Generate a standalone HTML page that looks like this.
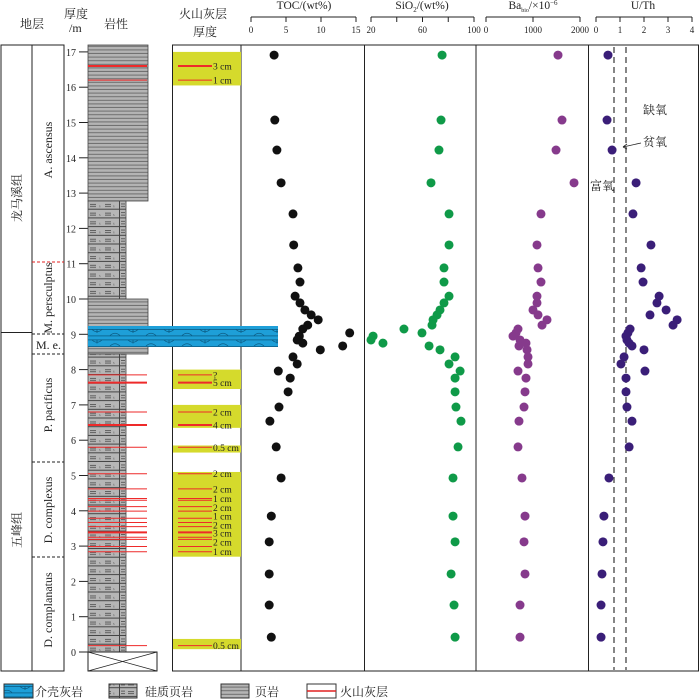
<!DOCTYPE html>
<html><head><meta charset="utf-8"><style>
body{margin:0;background:#fff;width:700px;height:699px;overflow:hidden}
svg{display:block}
.s{font-family:"Liberation Serif","Noto Serif CJK SC",serif;fill:#222}
.c{font-family:"Liberation Serif","Noto Serif CJK SC","Noto Sans CJK SC",serif;fill:#222}
</style></head><body>
<svg id="chart" width="700" height="699" viewBox="0 0 700 699" xmlns="http://www.w3.org/2000/svg">
<defs>
<pattern id="shale" width="10" height="3.6" patternUnits="userSpaceOnUse">
<rect width="10" height="3.6" fill="#b4b4b4"/><rect y="2.6" width="10" height="1" fill="#6e6e6e"/>
</pattern>
<pattern id="silic" x="88" y="201" width="38" height="8.7" patternUnits="userSpaceOnUse">
<rect width="38" height="8.7" fill="#b6b6b6"/><rect y="7.7" width="38" height="1" fill="#444"/>
<rect x="2" y="3" width="6" height="0.9" fill="#555"/><rect x="2" y="5" width="6" height="0.9" fill="#555"/>
<text x="11" y="6.5" font-size="4" fill="#555">s</text>
<rect x="17" y="3" width="6" height="0.9" fill="#555"/><rect x="17" y="5" width="6" height="0.9" fill="#555"/>
<text x="25" y="6.5" font-size="4" fill="#555">s</text>
<rect x="31" y="0" width="1" height="8.7" fill="#444"/>
<rect x="33" y="2.5" width="4" height="0.9" fill="#555"/><rect x="33" y="5" width="4" height="0.9" fill="#555"/>
</pattern>
<pattern id="lime" x="88" y="326" width="36" height="10.5" patternUnits="userSpaceOnUse">
<rect width="36" height="10.5" fill="#1e9fd8"/>
<rect y="3" width="36" height="0.8" fill="#0b5d85"/><rect y="9.5" width="36" height="0.8" fill="#0b5d85"/>
<path d="M4 3.5 Q9 8 14 3.5 M9 3.5 V7 M22 9.5 Q27 5 32 9.5" stroke="#0b5d85" stroke-width="0.8" fill="none"/>
</pattern>
</defs>

<g>
<text class="c" x="20" y="28" font-size="12">地层</text>
<text class="c" x="64" y="18" font-size="12">厚度</text>
<text class="c" x="69" y="32" font-size="12">/m</text>
<text class="c" x="104" y="28" font-size="12">岩性</text>
<text class="c" x="179" y="18" font-size="12">火山灰层</text>
<text class="c" x="193" y="36" font-size="12">厚度</text>
</g>

<g stroke="#222" stroke-width="1" fill="none">
<rect x="1" y="45" width="63" height="626"/>
<line x1="32" y1="45" x2="32" y2="671"/>
<line x1="1" y1="332.5" x2="32" y2="332.5"/>
<rect x="172.5" y="45" width="526" height="626"/>
<line x1="241" y1="45" x2="241" y2="671"/>
<line x1="364.5" y1="45" x2="364.5" y2="671"/>
<line x1="476" y1="45" x2="476" y2="671"/>
<line x1="588.5" y1="45" x2="588.5" y2="671"/>
</g>
<g stroke-width="1" stroke-dasharray="3,2">
<line x1="32" y1="262" x2="64" y2="262" stroke="#e02020"/>
<line x1="32" y1="334" x2="64" y2="334" stroke="#222"/>
<line x1="32" y1="354" x2="64" y2="354" stroke="#222"/>
<line x1="32" y1="462" x2="64" y2="462" stroke="#222"/>
<line x1="32" y1="557" x2="64" y2="557" stroke="#222"/>
</g>
<text class="c" font-size="12" transform="translate(21,198) rotate(-90)" text-anchor="middle">龙马溪组</text>
<text class="c" font-size="12" transform="translate(21,530) rotate(-90)" text-anchor="middle">五峰组</text>
<g class="s" font-size="12">
<text transform="translate(52,150) rotate(-90)" text-anchor="middle">A. ascensus</text>
<text transform="translate(52,298) rotate(-90)" text-anchor="middle">M. persculptus</text>
<text x="36" y="349">M. e.</text>
<text transform="translate(52,405) rotate(-90)" text-anchor="middle">P. pacificus</text>
<text transform="translate(52,510) rotate(-90)" text-anchor="middle">D. complexus</text>
<text transform="translate(52,610) rotate(-90)" text-anchor="middle">D. complanatus</text>
</g>
<g id="depthAxis"></g>

<g>
<rect x="88" y="45" width="60" height="156" fill="url(#shale)" stroke="#444" stroke-width="0.8"/>
<rect x="88" y="201" width="38" height="98" fill="url(#silic)" stroke="#444" stroke-width="0.8"/>
<rect x="88" y="299" width="60" height="55" fill="url(#shale)" stroke="#444" stroke-width="0.8"/>
<rect x="88" y="354" width="38" height="298" fill="url(#silic)" stroke="#444" stroke-width="0.8"/>
<rect x="88" y="652" width="69" height="19" fill="#fff" stroke="#222" stroke-width="1"/>
<path d="M88 652 L157 671 M157 652 L88 671" stroke="#222" stroke-width="0.8"/>
<rect x="88" y="326" width="190" height="21" fill="url(#lime)"/>
</g>
<g id="ashLines"></g>
<g id="ashBoxes"></g>

<g id="axes"></g>
<g stroke="#444" stroke-width="1.3" stroke-dasharray="6,4">
<line id="th1" x1="614" y1="47" x2="614" y2="670"/>
<line id="th2" x1="627" y1="47" x2="627" y2="670"/>
</g>
<g class="c" font-size="12">
<text x="643" y="114">缺氧</text>
<text x="643" y="146">贫氧</text>
<text x="590" y="190">富氧</text>
</g>
<path d="M641 143 L623 147 M623 147 l4 -3 M623 147 l4 2" stroke="#222" stroke-width="0.8" fill="none"/>
<g id="dots"></g>

<g>
<rect x="4" y="684" width="29" height="14" fill="url(#lime)" stroke="#333"/>
<text class="c" x="35" y="696" font-size="12">介壳灰岩</text>
<rect x="109" y="684" width="28" height="14" fill="url(#silic)" stroke="#333"/>
<text class="c" x="145" y="696" font-size="12">硅质页岩</text>
<rect x="221" y="684" width="28" height="14" fill="url(#shale)" stroke="#333"/>
<text class="c" x="255" y="696" font-size="12">页岩</text>
<rect x="307" y="684" width="29" height="14" fill="#fff" stroke="#333"/>
<line x1="307" y1="691" x2="336" y2="691" stroke="#e02020" stroke-width="1.5"/>
<text class="c" x="340" y="696" font-size="12">火山灰层</text>
</g>
</svg>
<script>
const depths=[16.91,15.07,14.22,13.29,12.41,11.53,10.88,10.48,10.08,9.89,9.69,9.55,9.41,9.26,9.15,9.04,8.95,8.84,8.75,8.67,8.56,8.36,8.16,7.96,7.76,7.37,6.94,6.54,5.81,4.93,3.85,3.12,2.21,1.33,0.42];
const toc=[3.3,3.4,3.7,4.3,6.0,6.1,6.7,7.0,6.3,7.0,7.7,8.6,9.6,8.1,7.4,14.1,6.9,6.6,7.4,13.1,9.9,6.0,6.6,3.9,5.6,5.3,4.0,2.7,3.6,4.3,2.9,2.6,2.6,2.6,2.9];
const sio2=[75.2,74.4,72.8,66.6,80.6,80.6,76.7,76.7,80.6,76.7,73.6,71.3,68.2,67.4,45.6,59.6,21.6,20.0,29.3,65.1,73.6,85.3,80.6,89.2,85.3,85.3,86.0,89.9,87.6,83.7,83.7,85.3,82.2,84.5,85.3];
const ba=[1532,1617,1490,1873,1170,1085,1107,1170,1085,1085,1000,1107,1298,1192,681,638,575,724,851,702,873,894,894,681,851,830,809,702,681,766,830,809,830,724,724];
const uth=[0.5,0.46,0.67,1.67,1.54,2.29,1.88,1.96,2.63,2.54,2.92,2.25,3.38,3.21,1.42,1.33,1.25,1.29,1.38,1.5,2.0,1.17,1.04,2.04,1.25,1.25,1.29,1.5,1.38,0.54,0.33,0.29,0.25,0.21,0.21];
const depthTicks=[0,1,2,3,4,5,6,7,8,9,10,11,12,13,14,15,16,17];
const tocTicks=[0,5,10,15];
const sio2Ticks=[20,40,60,80,100];
const sio2Labels=[20,60,100];
const baTicks=[0,1000,2000];
const uthTicks=[0,1,2,3,4];
const uthThresholds=[0.75,1.25];
const ashLithDepths=[16.6,16.2,7.85,7.63,6.8,6.43,5.8,5.05,4.62,4.35,4.3,4.12,3.99,3.79,3.67,3.55,3.39,3.25,3.19,2.99,2.84,0.18];
const ashThick=[1,0,0,1,0,1,0,0,0,0,0,0,0,0,0,0,1,0,0,0,0,0];
const ashBoxTop=[17.0,8.0,7.0,5.85,5.1,0.37];
const ashBoxBot=[16.05,7.45,6.35,5.65,2.7,0.08];
const ashLabelDepths=[16.6,16.2,7.85,7.63,6.8,6.43,5.8,5.05,4.62,4.35,4.1,3.85,3.6,3.37,3.12,2.84,0.18];
const ashLabels=["3 cm","1 cm","?","5 cm","2 cm","4 cm","0.5 cm","2 cm","2 cm","1 cm","2 cm","1 cm","2 cm","3 cm","2 cm","1 cm","0.5 cm"];
const ashBoxLines=[16.6,16.2,7.85,7.63,6.8,6.43,5.8,5.05,4.62,4.35,4.3,4.12,3.99,3.79,3.67,3.55,3.39,3.25,3.19,2.99,2.84,0.18];

const NS='http://www.w3.org/2000/svg';
const Y=d=>652-d*35.3;
const xT=v=>251+v*7;
const xS=v=>371+(v-20)*103/80;
const xB=v=>486+v*94/2000;
const xU=v=>596+v*24;
function mk(tag,attrs,parent){const e=document.createElementNS(NS,tag);for(const k in attrs)e.setAttribute(k,attrs[k]);parent.appendChild(e);return e;}

const da=document.getElementById('depthAxis');
depthTicks.forEach(d=>{
 const t=mk('line',{x1:79,x2:88,y1:Y(d),y2:Y(d),stroke:'#222','stroke-width':1},da);
 
 
 const l=mk('text',{x:76,y:Y(d)+4,'text-anchor':'end','font-size':10,class:'s'},da);
 l.textContent=d;
 
 
});

const al=document.getElementById('ashLines');
ashLithDepths.forEach((d,i)=>{
 const e=mk('line',{x1:88,x2:147,y1:Y(d),y2:Y(d),stroke:'#ee2a2a','stroke-width':ashThick[i]?2:1},al);
 
 
});
const ab=document.getElementById('ashBoxes');
ashBoxTop.forEach((t,i)=>{
 const e=mk('rect',{x:173,width:68,y:Y(t),height:Y(ashBoxBot[i])-Y(t),fill:'#d5da2c'},ab);
 
 
});
ashBoxLines.forEach((d,i)=>{
 const e=mk('line',{x1:178,x2:212,y1:Y(d),y2:Y(d),stroke:'#ee2a2a','stroke-width':ashThick[i]?2:1},ab);
 
 
});
ashLabelDepths.forEach((d,i)=>{
 const e=mk('text',{x:213,y:Y(d)+3.5,'font-size':9.5,class:'s'},ab);
 e.textContent=ashLabels[i];
 
 
});

const ax=document.getElementById('axes');
function axis(name,title,ticks,labels,fx,x0,x1,tx){
 const g=mk('g',{},ax);
 
 
 mk('line',{x1:x0,x2:x1,y1:17,y2:17,stroke:'#222','stroke-width':1},g);
 ticks.forEach(v=>mk('line',{x1:fx(v),x2:fx(v),y1:17,y2:22,stroke:'#222','stroke-width':1},g));
 labels.forEach(v=>{const t=mk('text',{x:fx(v),y:33,'text-anchor':'middle','font-size':9,class:'s'},g);t.textContent=v;});
 const t=mk('text',{x:tx,y:9,'text-anchor':'middle','font-size':11.5,class:'s'},g);
 t.innerHTML=title;
}
axis('toc-axis','TOC/(wt%)',tocTicks,tocTicks,xT,251,356,304);
axis('sio2-axis','SiO<tspan font-size="7" dy="3">2</tspan><tspan dy="-3">/(wt%)</tspan>',sio2Ticks,sio2Labels,xS,371,474,422);
axis('ba-axis','Ba<tspan font-size="6" dy="3">bio</tspan><tspan dy="-3">/×10</tspan><tspan font-size="7" dy="-4">−6</tspan>',baTicks,baTicks,xB,486,580,533);
axis('uth-axis','U/Th',uthTicks,uthTicks,xU,596,692,643);
document.getElementById('th1').setAttribute('x1',xU(uthThresholds[0]));
document.getElementById('th1').setAttribute('x2',xU(uthThresholds[0]));
document.getElementById('th2').setAttribute('x1',xU(uthThresholds[1]));
document.getElementById('th2').setAttribute('x2',xU(uthThresholds[1]));

const dots=document.getElementById('dots');
function series(vals,fx,color,name){
 vals.forEach((v,i)=>{
  const c=mk('circle',{cx:fx(v),cy:Y(depths[i]),r:4.5,fill:color},dots);
  
  
 });
}
series(toc,xT,'#111','toc-point');
series(sio2,xS,'#0f9a48','sio2-point');
series(ba,xB,'#863a8c','ba-point');
series(uth,xU,'#3a1e78','uth-point');
</script>
</body></html>
